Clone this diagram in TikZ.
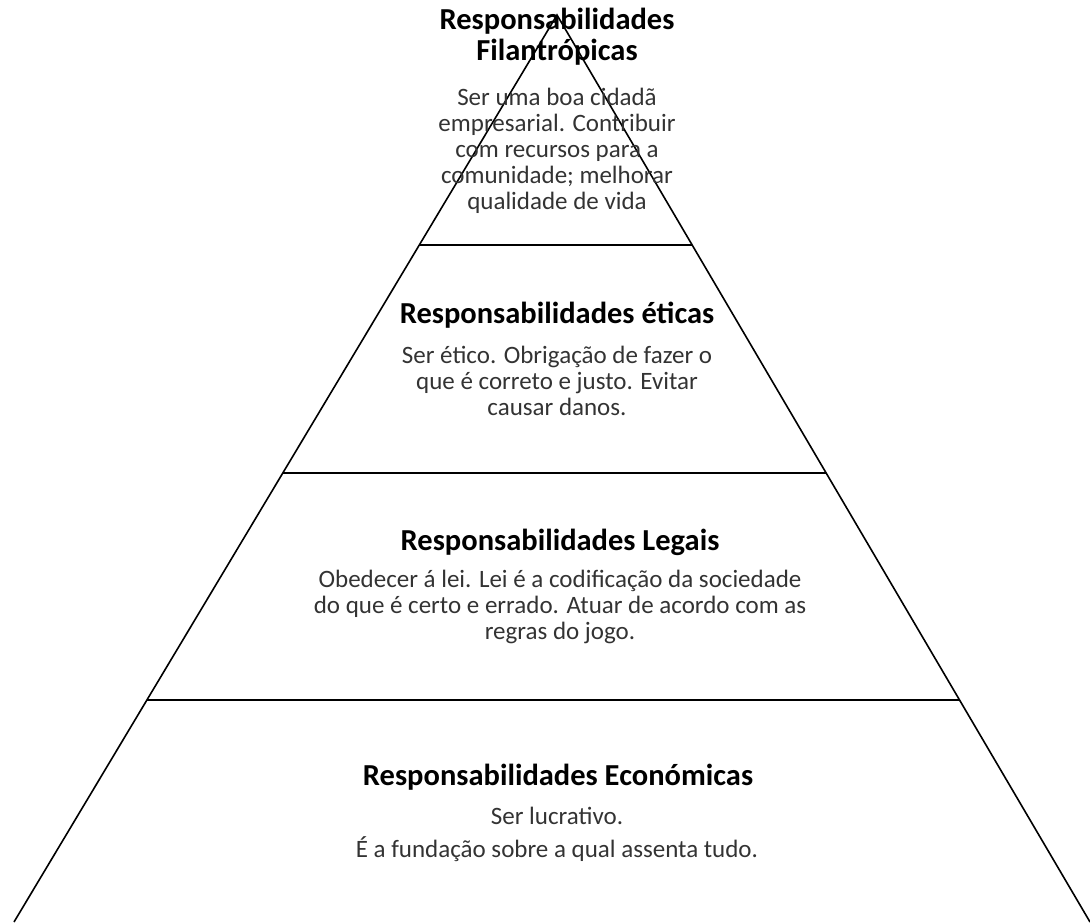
\documentclass[tikz,border=0pt]{standalone}
\usepackage{fontspec}
\setmainfont{Carlito}
\usetikzlibrary{calc}

\tikzset{
  layertitle/.style={align=center, font=\bfseries\fontsize{30.5}{31}\selectfont},
  layertext/.style={align=center, text=black!80, font=\fontsize{25}{26}\selectfont},
}

\begin{document}
\begin{tikzpicture}[x=1pt, y=-1pt, line width=1.6pt]

  \useasboundingbox (0, 0) rectangle (1090, 922);

  % pyramid outline
  \coordinate (apex) at (557, 15);
  \coordinate (bl)   at (14, 922);
  \coordinate (br)   at (1090, 922);
  \draw (bl) -- (apex) -- (br);

  % layer borders
  \foreach \t/\n in {0.2536/one, 0.5050/two, 0.7552/three} {
    \coordinate (\n l) at ($(apex)!\t!(bl)$);
    \coordinate (\n r) at ($(apex)!\t!(br)$);
    \draw (\n l) -- (\n r);
  }

  %                          x,   y
  \node [layertitle] (filt) at (557,  37)
        {Responsabilidades\\Filantrópicas};
  \node [layertext]  (filb) at (557, 151)
        {Ser uma boa cidadã\\empresarial. Contribuir\\com recursos para a\\comunidade; melhorar\\qualidade de vida};

  \node [layertitle] (etit) at (557, 315) {Responsabilidades éticas};
  \node [layertext]  (etib) at (557, 381)
        {Ser ético. Obrigação de fazer o\\que é correto e justo. Evitar\\causar danos.};

  \node [layertitle] (legt) at (560, 542) {Responsabilidades Legais};
  \node [layertext]  (legb) at (560, 607)
        {Obedecer á lei. Lei é a codificação da sociedade\\do que é certo e errado. Atuar de acordo com as\\regras do jogo.};

  \node [layertitle] (ecot) at (558, 777) {Responsabilidades Económicas};
  \node [layertext]  (ecob) at (557, 816) {Ser lucrativo.};
  \node [layertext]  (ecoc) at (557, 849) {É a fundação sobre a qual assenta tudo.};

\end{tikzpicture}
\end{document}
